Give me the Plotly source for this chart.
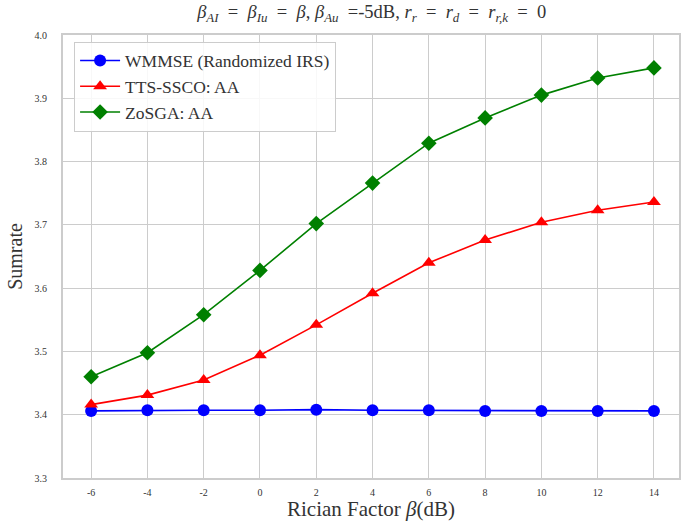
import plotly.graph_objects as go

x_db = [-6, -4, -2, 0, 2, 4, 6, 8, 10, 12, 14]
wmmse = [3.406, 3.407, 3.407, 3.407, 3.408, 3.407, 3.407, 3.406, 3.406, 3.406, 3.406]
tts_ssco = [3.416, 3.431, 3.455, 3.494, 3.542, 3.592, 3.640, 3.676, 3.704, 3.723, 3.736]
zosga = [3.460, 3.498, 3.558, 3.628, 3.702, 3.766, 3.829, 3.869, 3.905, 3.932, 3.948]
names = ["WMMSE (Randomized IRS)", "TTS-SSCO: AA", "ZoSGA: AA"]
y_ticks = [3.3, 3.4, 3.5, 3.6, 3.7, 3.8, 3.9, 4.0]

FONT = "Liberation Serif, serif"
TXT = "#333333"
fig = go.Figure()
styles = [("blue", "circle", 12), ("red", "triangle-up", 12), ("green", "diamond", 12)]
for name, ys, (c, sym, sz) in zip(names, [wmmse, tts_ssco, zosga], styles):
    fig.add_trace(go.Scatter(x=x_db, y=ys, name=name, mode="lines+markers",
                             line=dict(color=c, width=1.6),
                             marker=dict(color=c, symbol=sym, size=sz)))

S = "\u00a0"
EQ = S + S + "=" + S + S
title = (f"<i>β<sub>AI</sub></i>{EQ}<i>β<sub>Iu</sub></i>{EQ}<i>β</i>, <i>β<sub>Au</sub></i>{S}{S}=-5dB, "
         f"<i>r<sub>r</sub></i>{EQ}<i>r<sub>d</sub></i>{EQ}<i>r<sub>r,k</sub></i>{EQ}0")

fig.update_layout(
    width=682, height=521,
    margin=dict(l=63, r=1, t=35, b=43),
    paper_bgcolor="white", plot_bgcolor="white",
    font=dict(family=FONT, color=TXT),
    title=dict(text=title, x=0.545, xanchor="center", y=0.977, yanchor="middle",
               font=dict(family=FONT, size=18.5, color=TXT)),
    legend=dict(x=0.018, y=0.985, xanchor="left", yanchor="top",
                bgcolor="rgba(255,255,255,0.85)", bordercolor="#cccccc", borderwidth=1,
                font=dict(family=FONT, size=17.5, color=TXT),
                itemwidth=40, tracegroupgap=0),
    xaxis=dict(range=[-7, 14.89], tickvals=x_db, ticktext=[str(v) for v in x_db],
               showgrid=True, gridcolor="#cccccc", gridwidth=1,
               showline=True, linecolor="#cccccc", linewidth=2, mirror=True,
               zeroline=False, ticks="", ticklabelstandoff=4,
               tickfont=dict(family=FONT, size=10, color=TXT),
               title=dict(text="Rician Factor <i>β</i>(dB)", font=dict(family=FONT, size=21, color=TXT), standoff=4)),
    yaxis=dict(range=[3.3, 4.0], tickvals=y_ticks, ticktext=[f"{v:.1f}" for v in y_ticks],
               showgrid=True, gridcolor="#cccccc", gridwidth=1,
               showline=True, linecolor="#cccccc", linewidth=2, mirror=True,
               zeroline=False, ticks="", ticklabelstandoff=12,
               tickfont=dict(family=FONT, size=10, color=TXT),
               title=dict(text="Sumrate", font=dict(family=FONT, size=20, color=TXT), standoff=7)),
)
fig.write_html("out.html", config={"displayModeBar": False},
               post_script="document.body.style.margin='0px';")
